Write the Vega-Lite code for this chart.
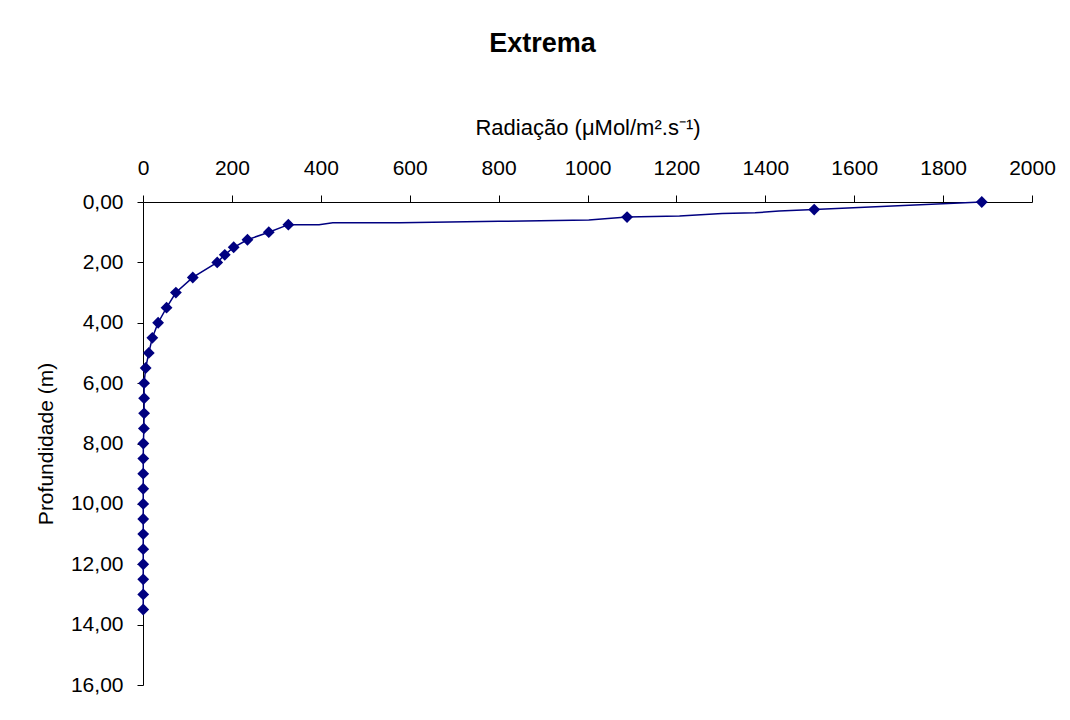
{
  "$schema": "https://vega.github.io/schema/vega-lite/v6.json",
  "width": 889,
  "height": 483,
  "autosize": "none",
  "padding": {"left": 143, "top": 202, "right": 38, "bottom": 35},
  "background": "white",
  "config": {
    "font": "Liberation Sans",
    "view": {"stroke": null},
    "locale": {"number": {"decimal": ",", "thousands": ".", "grouping": [3], "currency": ["R$", ""]}},
    "axis": {"grid": false, "domainColor": "black", "tickColor": "black", "labelColor": "black", "titleColor": "black", "labelFont": "Liberation Sans", "titleFont": "Liberation Sans", "labelFontSize": 21, "titleFontSize": 21, "titleFontWeight": "normal", "domainWidth": 1, "tickWidth": 1}
  },
  "title": {"text": "Extrema", "fontSize": 27, "fontWeight": "bold", "font": "Liberation Sans", "color": "black", "anchor": "middle", "offset": 58, "dx": -45},
  "datasets": {
    "pontos": [
      {"prof": 0.0, "rad": 1887},
      {"prof": 0.25, "rad": 1510},
      {"prof": 0.5, "rad": 1089},
      {"prof": 0.75, "rad": 327},
      {"prof": 1.0, "rad": 283},
      {"prof": 1.25, "rad": 235},
      {"prof": 1.5, "rad": 204},
      {"prof": 1.75, "rad": 184},
      {"prof": 2.0, "rad": 167},
      {"prof": 2.5, "rad": 112},
      {"prof": 3.0, "rad": 74},
      {"prof": 3.5, "rad": 53},
      {"prof": 4.0, "rad": 34},
      {"prof": 4.5, "rad": 21},
      {"prof": 5.0, "rad": 13},
      {"prof": 5.5, "rad": 6},
      {"prof": 6.0, "rad": 2.5},
      {"prof": 6.5, "rad": 2.5},
      {"prof": 7.0, "rad": 2.5},
      {"prof": 7.5, "rad": 2},
      {"prof": 8.0, "rad": 0.8},
      {"prof": 8.5, "rad": 0.6},
      {"prof": 9.0, "rad": 0.5},
      {"prof": 9.5, "rad": 0.5},
      {"prof": 10.0, "rad": 0.5},
      {"prof": 10.5, "rad": 0.5},
      {"prof": 11.0, "rad": 0.5},
      {"prof": 11.5, "rad": 0.5},
      {"prof": 12.0, "rad": 0.5},
      {"prof": 12.5, "rad": 0.5},
      {"prof": 13.0, "rad": 0.5},
      {"prof": 13.5, "rad": 0.5}
    ],
    "curva": [
      {"prof": 0.0, "rad": 1887},
      {"prof": 0.25, "rad": 1510},
      {"prof": 0.3, "rad": 1431},
      {"prof": 0.36, "rad": 1377},
      {"prof": 0.38, "rad": 1303},
      {"prof": 0.46, "rad": 1207},
      {"prof": 0.5, "rad": 1089},
      {"prof": 0.6, "rad": 1003},
      {"prof": 0.64, "rad": 801},
      {"prof": 0.69, "rad": 577},
      {"prof": 0.69, "rad": 427},
      {"prof": 0.75, "rad": 396},
      {"prof": 0.75, "rad": 327},
      {"prof": 1.0, "rad": 283},
      {"prof": 1.25, "rad": 235},
      {"prof": 1.5, "rad": 204},
      {"prof": 1.75, "rad": 184},
      {"prof": 2.0, "rad": 167},
      {"prof": 2.5, "rad": 112},
      {"prof": 3.0, "rad": 74},
      {"prof": 3.5, "rad": 53},
      {"prof": 4.0, "rad": 34},
      {"prof": 4.5, "rad": 21},
      {"prof": 5.0, "rad": 13},
      {"prof": 5.5, "rad": 6},
      {"prof": 6.0, "rad": 2.5},
      {"prof": 6.5, "rad": 2.5},
      {"prof": 7.0, "rad": 2.5},
      {"prof": 7.5, "rad": 2},
      {"prof": 8.0, "rad": 0.8},
      {"prof": 8.5, "rad": 0.6},
      {"prof": 9.0, "rad": 0.5},
      {"prof": 9.5, "rad": 0.5},
      {"prof": 10.0, "rad": 0.5},
      {"prof": 10.5, "rad": 0.5},
      {"prof": 11.0, "rad": 0.5},
      {"prof": 11.5, "rad": 0.5},
      {"prof": 12.0, "rad": 0.5},
      {"prof": 12.5, "rad": 0.5},
      {"prof": 13.0, "rad": 0.5},
      {"prof": 13.5, "rad": 0.5}
    ]
  },
  "encoding": {
    "x": {
      "field": "rad", "type": "quantitative",
      "scale": {"domain": [0, 2000], "nice": false, "zero": false},
      "axis": {"orient": "top", "title": "Radiação (μMol/m².s⁻¹)", "titleFontSize": 22, "values": [0,200,400,600,800,1000,1200,1400,1600,1800,2000], "format": "d", "tickSize": 7, "labelPadding": 17, "titlePadding": 18, "labelFlush": false, "labelOverlap": false}
    },
    "y": {
      "field": "prof", "type": "quantitative",
      "scale": {"domain": [0, 16], "reverse": true, "nice": false},
      "axis": {"title": "Profundidade (m)", "values": [0,2,4,6,8,10,12,14,16], "format": ".2f", "tickSize": 6, "labelPadding": 14, "titlePadding": 14, "labelFlush": false, "labelOverlap": false}
    }
  },
  "layer": [
    {
      "data": {"name": "curva"},
      "mark": {"type": "line", "color": "#000080", "strokeWidth": 1.5},
      "encoding": {"order": {"field": "prof", "type": "quantitative"}}
    },
    {
      "data": {"name": "pontos"},
      "mark": {"type": "point", "shape": "diamond", "filled": true, "color": "#000080", "opacity": 1, "size": 140}
    }
  ]
}
